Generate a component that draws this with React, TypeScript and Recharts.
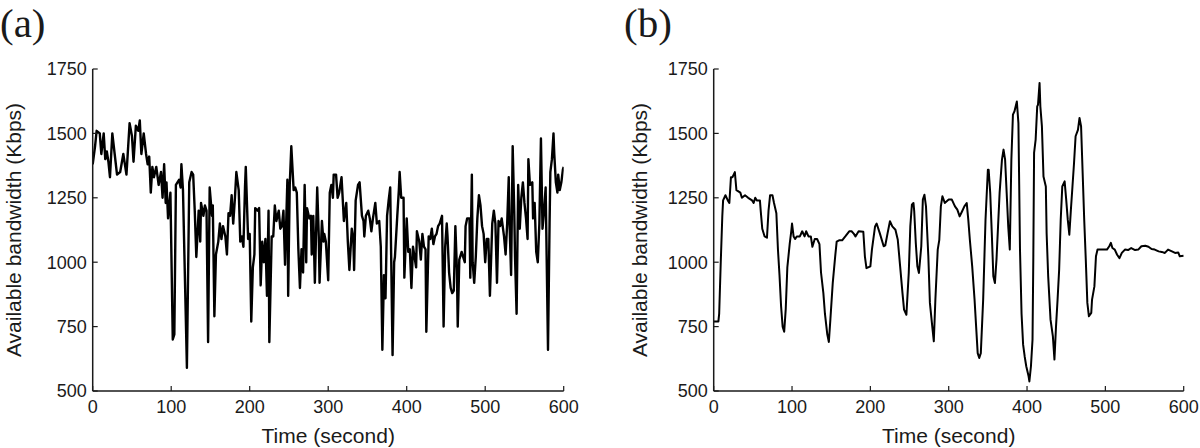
import React from 'react';
import { LineChart, Line, XAxis, YAxis } from 'recharts';

// ---------- Data ----------
const timeA = [
  0, 3, 5, 9, 11, 14, 16, 18, 20, 22, 25, 28, 31, 35, 39, 43, 47, 50, 52, 55, 58, 60, 62, 65, 68, 70, 72, 74, 76, 78,
  81, 84, 87, 89, 91, 93, 94, 96, 99, 102, 104, 106, 108, 110, 112, 113, 115, 120, 123, 126, 128, 130, 132, 135, 137, 138,
  141, 143, 145, 147, 149, 152, 153, 155, 157, 160, 162, 164, 166, 169, 171, 173, 175, 177, 179, 181, 183, 186, 188, 190,
  192, 194, 195, 198, 200, 202, 204, 206, 207, 210, 212, 214, 216, 218, 220, 222, 224, 225, 228, 230, 232, 234, 237, 239,
  241, 243, 245, 248, 249, 251, 253, 256, 258, 260, 262, 264, 266, 268, 270, 272, 273, 276, 278, 279, 281, 283, 286, 288,
  289, 292, 294, 295, 297, 300, 302, 304, 306, 307, 310, 312, 314, 317, 320, 323, 325, 327, 330, 332, 333, 335, 338, 340,
  343, 345, 346, 348, 351, 353, 355, 357, 360, 362, 365, 367, 369, 371, 373, 375, 377, 379, 382, 384, 385, 388, 390, 391,
  393, 396, 397, 400, 402, 404, 406, 408, 410, 412, 413, 416, 418, 420, 422, 424, 425, 428, 430, 432, 434, 436, 438, 440,
  442, 445, 447, 449, 451, 452, 454, 456, 458, 460, 462, 464, 465, 467, 470, 472, 474, 475, 477, 480, 481, 483, 484, 486,
  488, 490, 492, 494, 496, 498, 500, 502, 504, 506, 509, 511, 513, 515, 517, 519, 521, 524, 526, 528, 530, 531, 533, 535,
  537, 538, 540, 542, 544, 546, 548, 550, 552, 554, 555, 557, 560, 561, 563, 565, 567, 569, 571, 573, 575, 577, 578, 580,
  582, 583, 585, 587, 588, 590, 592, 593, 595, 597, 599, 600,
];
const bandwidthA = [
  1380, 1450, 1510, 1500, 1420, 1500, 1400, 1430, 1390, 1330, 1500, 1420, 1340, 1350, 1420, 1340, 1540, 1490, 1390, 1530,
  1510, 1550, 1420, 1500, 1420, 1380, 1410, 1270, 1370, 1330, 1370, 1300, 1350, 1250, 1380, 1230, 1310, 1170, 1270, 700,
  720, 1300, 1310, 1320, 1290, 1380, 1280, 590, 1310, 1350, 1340, 1200, 1020, 1200, 1080, 1230, 1180, 1220, 1200, 690,
  1290, 1180, 1220, 790, 1030, 1080, 1150, 1090, 1140, 1100, 1030, 1190, 1180, 1260, 1150, 1240, 1350, 1280, 1080, 1100,
  1060, 1290, 1370, 1090, 1110, 770, 980, 1030, 1210, 1200, 1210, 910, 1080, 1000, 1090, 870, 1200, 690, 1100, 1100,
  1220, 1160, 1200, 1130, 1140, 1200, 990, 1320, 870, 1300, 1450, 1280, 1290, 1270, 1050, 900, 1050, 960, 1300, 1000,
  1210, 1170, 1180, 1030, 1180, 920, 1290, 1100, 920, 1160, 1080, 1110, 1080, 930, 1270, 1300, 1250, 1340, 1340, 1250,
  1270, 1330, 1160, 1230, 1080, 970, 1130, 1090, 970, 1240, 1300, 1310, 1180, 1160, 1100, 1180, 1200, 1170, 1120, 1170,
  1230, 1150, 1160, 1060, 660, 950, 860, 1180, 1240, 1290, 640, 1000, 1020, 1180, 1280, 1350, 1250, 1250, 940, 1170,
  1040, 1050, 900, 1060, 1020, 980, 1120, 1080, 1010, 1110, 1060, 1050, 730, 1100, 1090, 1130, 1070, 1100, 1110, 1140,
  1150, 1180, 750, 1060, 1150, 1100, 960, 900, 880, 890, 1140, 970, 750, 1010, 1040, 1020, 1000, 1140, 1170, 1170,
  940, 1340, 1000, 920, 1020, 1170, 1260, 1220, 1140, 1110, 1000, 1090, 1090, 870, 1150, 1200, 1150, 920, 1160, 1140,
  1170, 1100, 1030, 1150, 1330, 1150, 950, 1450, 1200, 1020, 800, 1300, 1130, 1250, 1310, 1230, 1170, 1090, 1400, 1300,
  1310, 1170, 1230, 1040, 1000, 1150, 1480, 1130, 1200, 1290, 1080, 660, 1150, 1350, 1400, 1500, 1420, 1310, 1270, 1340,
  1280, 1310, 1360, 1370,
];

const timeB = [
  0, 2, 6, 7, 9, 11, 12, 15, 18, 20, 22, 24, 27, 29, 34, 36, 40, 44, 49, 51, 53, 55, 59, 60, 62, 65, 68, 70, 72, 75,
  77, 80, 82, 84, 86, 88, 90, 92, 94, 97, 99, 100, 102, 104, 106, 110, 113, 116, 118, 121, 124, 126, 129, 132, 135, 137,
  140, 142, 145, 147, 149, 152, 155, 157, 160, 164, 168, 173, 176, 179, 181, 185, 191, 193, 195, 200, 202, 206, 208, 212,
  217, 219, 222, 225, 228, 232, 235, 238, 241, 243, 246, 249, 251, 253, 255, 256, 258, 260, 262, 265, 267, 269, 271, 274,
  276, 279, 281, 283, 286, 288, 290, 292, 295, 300, 304, 308, 311, 314, 317, 320, 323, 325, 327, 330, 333, 335, 337, 339,
  341, 344, 347, 350, 351, 353, 355, 357, 359, 361, 363, 365, 368, 370, 372, 374, 376, 378, 380, 382, 384, 387, 389, 390,
  391, 393, 395, 397, 399, 402, 403, 405, 407, 408, 409, 411, 413, 414, 416, 417, 419, 421, 424, 425, 427, 430, 433, 435,
  437, 439, 441, 443, 445, 448, 450, 452, 454, 456, 458, 460, 462, 465, 467, 469, 471, 473, 475, 477, 479, 482, 483, 486,
  488, 490, 495, 502, 505, 507, 509, 512, 515, 518, 521, 525, 529, 533, 538, 542, 546, 551, 555, 559, 563, 568, 572, 576,
  580, 585, 589, 593, 595, 600,
];
const bandwidthB = [
  770, 770, 770, 800, 1000, 1180, 1240, 1260, 1240, 1230, 1330, 1330, 1350, 1280, 1270, 1250, 1260, 1250, 1240, 1230,
  1250, 1240, 1240, 1200, 1130, 1100, 1095, 1200, 1260, 1260, 1230, 1190, 1050, 950, 830, 750, 730, 820, 980, 1070,
  1120, 1150, 1100, 1090, 1100, 1100, 1120, 1100, 1120, 1100, 1100, 1060, 1090, 1090, 1070, 960, 880, 800, 720, 690,
  780, 920, 1020, 1080, 1085, 1085, 1100, 1120, 1120, 1110, 1100, 1120, 1118, 1023, 977, 984, 1049, 1139, 1150, 1113,
  1062, 1065, 1113, 1159, 1139, 1126, 1087, 984, 880, 816, 796, 958, 1139, 1223, 1230, 1197, 1074, 984, 958, 1062,
  1243, 1262, 1217, 1023, 842, 751, 693, 855, 1049, 1087, 1217, 1256, 1230, 1243, 1243, 1217, 1204, 1178, 1197, 1217,
  1230, 1165, 1087, 984, 855, 751, 647, 628, 647, 855, 1165, 1359, 1359, 1269, 1113, 945, 919, 1010, 1139, 1269,
  1398, 1437, 1398, 1269, 1139, 1049, 1398, 1573, 1586, 1624, 1540, 1300, 1050, 800, 680, 634, 596, 557, 537, 596,
  699, 1010, 1424, 1476, 1605, 1611, 1696, 1605, 1527, 1333, 1294, 1113, 945, 777, 712, 622, 751, 855, 971, 1165,
  1294, 1314, 1243, 1165, 1107, 1204, 1294, 1385, 1489, 1514, 1560, 1527, 1346, 1165, 1010, 842, 790, 803, 855, 906,
  1023, 1049, 1049, 1049, 1062, 1075, 1055, 1049, 1029, 1016, 1036, 1049, 1047, 1055, 1047, 1049, 1062, 1064, 1060, 1051,
  1049, 1042, 1040, 1036, 1049, 1042, 1036, 1038, 1023, 1025,
];

const xTicks = [0, 100, 200, 300, 400, 500, 600];
const yTicks = [500, 750, 1000, 1250, 1500, 1750];
const xLabel = 'Time (second)';
const yLabel = 'Available bandwidth (Kbps)';
const panelTitles = ['(a)', '(b)'];

const dataA = timeA.map((t, i) => ({ t, v: bandwidthA[i] }));
const dataB = timeB.map((t, i) => ({ t, v: bandwidthB[i] }));

// ---------- Styling ----------
const FONT = '"Liberation Sans", Arial, Helvetica, sans-serif';
const INK = '#1a1a1a';
const TICK_LEN = 5;

const BottomTick = (props: any) => {
  const { x, y, payload } = props;
  return (
    <g>
      <line x1={x} y1={y} x2={x} y2={y - TICK_LEN} stroke={INK} strokeWidth={1.2} />
      <text x={x} y={y + 22} textAnchor="middle" fontSize={18} fontFamily={FONT} fill={INK}>
        {payload.value}
      </text>
    </g>
  );
};
const TopTick = (props: any) => {
  const { x, y } = props;
  return <line x1={x} y1={y} x2={x} y2={y + TICK_LEN} stroke={INK} strokeWidth={1.2} />;
};
const LeftTick = (props: any) => {
  const { x, y, payload } = props;
  return (
    <g>
      <line x1={x} y1={y} x2={x + TICK_LEN} y2={y} stroke={INK} strokeWidth={1.2} />
      <text x={x - 6} y={y} dy="0.36em" textAnchor="end" fontSize={18} fontFamily={FONT} fill={INK}>
        {payload.value}
      </text>
    </g>
  );
};
const RightTick = (props: any) => {
  const { x, y } = props;
  return <line x1={x} y1={y} x2={x - TICK_LEN} y2={y} stroke={INK} strokeWidth={1.2} />;
};

type PanelProps = {
  data: { t: number; v: number }[];
  marginLeft: number;
  marginRight: number;
  labelOffset: number;
  strokeWidth: number;
};

const Panel = ({ data, marginLeft, marginRight, labelOffset, strokeWidth }: PanelProps) => {
  const axisLine = { stroke: INK, strokeWidth: 1.5 };
  return (
    <LineChart
      width={600}
      height={448}
      data={data}
      margin={{ top: 69, right: marginRight, bottom: 27, left: marginLeft }}
    >
      <XAxis
        dataKey="t"
        type="number"
        domain={[0, 600]}
        ticks={xTicks}
        interval={0}
        height={30}
        tickSize={0}
        tickMargin={0}
        tickLine={false}
        axisLine={axisLine}
        tick={<BottomTick />}
        allowDataOverflow
        label={{
          value: xLabel,
          position: 'bottom',
          offset: 7,
          style: { fontSize: 21, fontFamily: FONT, fill: INK },
        }}
      />
      <XAxis
        xAxisId="top"
        orientation="top"
        dataKey="t"
        type="number"
        domain={[0, 600]}
        ticks={xTicks}
        interval={0}
        height={0}
        tickSize={0}
        tickMargin={0}
        tickLine={false}
        axisLine={axisLine}
        tick={<TopTick />}
        allowDataOverflow
      />
      <YAxis
        type="number"
        domain={[500, 1750]}
        ticks={yTicks}
        interval={0}
        width={80}
        tickSize={0}
        tickMargin={0}
        tickLine={false}
        axisLine={axisLine}
        tick={<LeftTick />}
        allowDataOverflow
        label={{
          value: yLabel,
          angle: -90,
          position: 'insideLeft',
          offset: labelOffset,
          style: { textAnchor: 'middle', fontSize: 21, fontFamily: FONT, fill: INK },
        }}
      />
      <YAxis
        yAxisId="right"
        orientation="right"
        type="number"
        domain={[500, 1750]}
        ticks={yTicks}
        interval={0}
        width={0}
        tickSize={0}
        tickMargin={0}
        tickLine={false}
        axisLine={axisLine}
        tick={<RightTick />}
        allowDataOverflow
      />
      <Line
        type="linear"
        dataKey="v"
        stroke="#000"
        strokeWidth={strokeWidth}
        strokeLinejoin="round"
        dot={false}
        activeDot={false}
        isAnimationActive={false}
      />
    </LineChart>
  );
};

const titleStyle: React.CSSProperties = {
  position: 'absolute',
  top: 3,
  fontFamily: '"Liberation Serif", "Times New Roman", serif',
  fontSize: 41,
  lineHeight: 1,
  color: INK,
  whiteSpace: 'nowrap',
};

export default function App() {
  return (
    <div style={{ position: 'absolute', left: 0, top: 0, width: 1200, height: 448, background: '#fff', overflow: 'hidden' }}>
      <div style={{ position: 'absolute', left: 0, top: 0 }}>
        <Panel data={dataA} marginLeft={12.7} marginRight={36.3} labelOffset={0.5} strokeWidth={2.4} />
      </div>
      <div style={{ position: 'absolute', left: 600, top: 0 }}>
        <Panel data={dataB} marginLeft={33.7} marginRight={16.3} labelOffset={6.3} strokeWidth={2.0} />
      </div>
      <div style={{ ...titleStyle, left: 0 }}>{panelTitles[0]}</div>
      <div style={{ ...titleStyle, left: 624 }}>{panelTitles[1]}</div>
    </div>
  );
}
